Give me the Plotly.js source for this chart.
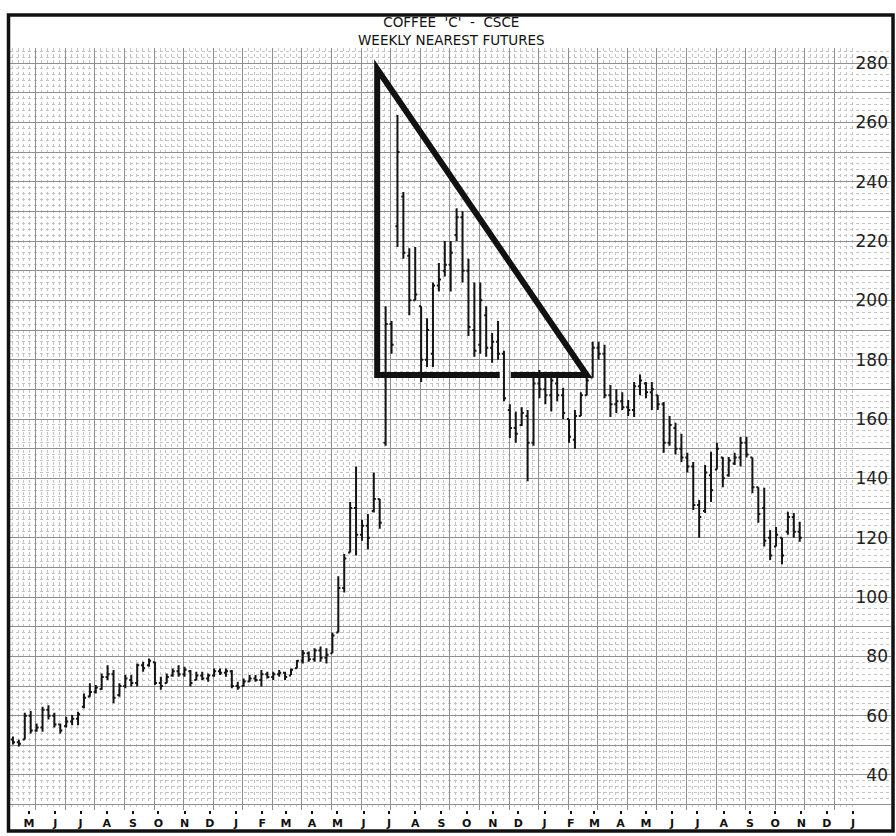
<!DOCTYPE html>
<html>
<head>
<meta charset="utf-8">
<script src="https://cdn.plot.ly/plotly-3.0.1.min.js"></script>
<style>
html, body { margin: 0; padding: 0; background: #fff; }
#chart { width: 896px; height: 836px; }
</style>
</head>
<body>
<div id="chart"></div>
<script>
// weekly nearest futures, one bar per week from Mon 12 Apr 1993
const firstWeek = Date.UTC(1993, 3, 12);
const DAY = 86400000;

const highs = [53,51.9,61,61.6,57.4,63,63.5,61,57.4,59.6,
  60.2,61.3,67.5,70.9,70.3,74.2,77,75.4,70.9,73.7,
  73.7,77.6,78.2,79.3,78.2,73.1,74.2,75.9,77,76.5,
  75.4,74.8,74.8,74.2,75.9,75.9,75.9,75.4,71.4,72.5,
  73.7,73.7,75.4,74.8,74.8,75.4,74.8,75.9,78.8,82.1,
  81.6,82.7,83.3,82.7,88,107,114.5,132,144,126,
  128,142,133,198,193,262.5,236.5,217.6,218,198,
  194,206,212.6,220,220,231,230,214,206,206,
  198,189,193,183,165,162.5,164,163,174,176.5,
  174,174,174,170.5,160,163,169,174,186,186,
  185,171.5,170,169,166.4,172.5,175,172.5,172.5,168,
  165.7,161,158.7,155,148.6,145.5,132.7,144.5,149,152,
  147.2,147.2,148.6,154,154,147,137,136.8,122.6,123.6,
  120,128.7,128.3,125.4];

const lows = [50.3,49.6,52,54,54.6,54.6,58.7,56,54,56,
  56.8,56.8,62.5,66.4,67.5,68.7,72,64.2,66.4,69.2,
  69.8,69.8,74.8,76.5,70.3,68.7,70.9,73.1,73.1,73.1,
  69.8,72,72,71.4,73.1,73.7,73.1,69.2,68.7,69.8,
  71.4,71.4,69.8,72.5,72,73.1,72,73.7,75.9,77.6,
  78.2,78.2,78.2,77.6,81,88,101.5,115,114,119,
  116,128.5,123,151,182,218,214,195,200,172.5,
  177.5,177.5,203,208,203,220,206,188,181,182,
  181,179,180,166,153.6,152,157.6,139,151,167,
  165,162.5,166,160,152,150,161,168,174,180,
  167,160.7,162,163,161,160.7,168,167,163,163,
  148.6,151,148,145.5,142,129.3,120,128.3,132,143,
  137,140.5,144.5,144,147,135,125,117,112.5,117,
  111,121,120,118.6];

const opens = [52,51,52,60,55,56,62,60,57,56.5,
  58,59,63,66.5,68,69,73,74,67,70,
  72,71,77,77,78,71,71,73.5,75,74,
  75,72,73.5,72.5,73.5,75,74.5,75,70,70,
  71.5,72.5,72,74,73,74,74.5,73.5,76,78.5,
  81,79,82,79.5,81,88,103,115,130,121,
  124,129,133,152,192,225,235,215,200,198,
  180,182,205,210,212,222,228,210,190,185,
  195,184,186,182,163,157,158,161,152,172,
  170,168,172,168,160,153,161,168,174,184,
  182,168,165,166,164,163,171,172,169,168,
  165,152,157,150,147,144,131,129,141,143,
  147,141,145,147,152,147,137,130,120,117,
  120,122,127,122];

const closes = [51,50.5,60,55,56,62,60,57,55,58,
  59,60.5,66,68,69.5,73,74,66,70,72.5,
  71,77,76,78.5,71,70,73,75,74,75.5,
  71,73.5,72.5,73.5,75,74.5,75,70,69.5,71.5,
  72.5,72,74,73,74,74.5,73,75.5,78.5,81,
  79,82,79.5,80.5,87,103,113,130,121,124,
  120,133,125,192,185,250,216,200,202,180,
  190,205,207,212,216,228,210,191,183,200,
  184,186,182,167,157,155,162,152,172,170,
  168,173,168,162,154,161,168,173,184,182,
  168,165,166,164,163,171,173,169,170,165,
  152,158,150,147,144,131,127,142,136,150,
  140,146,147,152,148,137,128,119,114,121,
  114,127,122,120];

const monthTicks = ['1993-05-01','1993-06-01','1993-07-01','1993-08-01','1993-09-01','1993-10-01',
  '1993-11-01','1993-12-01','1994-01-01','1994-02-01','1994-03-01','1994-04-01','1994-05-01',
  '1994-06-01','1994-07-01','1994-08-01','1994-09-01','1994-10-01','1994-11-01','1994-12-01',
  '1995-01-01','1995-02-01','1995-03-01','1995-04-01','1995-05-01','1995-06-01','1995-07-01',
  '1995-08-01','1995-09-01','1995-10-01','1995-11-01','1995-12-01','1996-01-01'];
const monthLabels = ['M','J','J','A','S','O','N','D','J','F','M','A','M','J','J','A','S','O','N','D',
  'J','F','M','A','M','J','J','A','S','O','N','D','J'];

const gridPrices = [30,40,50,60,70,80,90,100,110,120,130,140,150,160,170,180,190,200,210,220,230,240,250,260,270,280];
const priceLabels = ['','40','','60','','80','','100','','120','','140','','160','','180','','200','','220','','240','','260','','280'];

// hand-drawn triangle (open gap on the base)
const triDates = ['1994-11-09','1994-06-17','1994-06-17','1995-02-20','1994-11-22'];
const triPrices = [174.8,174.8,278,174.8,174.8];

const weeks = highs.map((h, i) => new Date(firstWeek + i * 7 * DAY).toISOString().slice(0, 10));

const triPath = triDates.map((d, i) => (i === 0 ? 'M' : 'L') + d + ',' + triPrices[i]).join(' ');

const bars = {
  type: 'ohlc',
  x: weeks, open: opens, high: highs, low: lows, close: closes,
  increasing: {line: {color: '#151515', width: 2}},
  decreasing: {line: {color: '#151515', width: 2}},
  tickwidth: 0.35,
  hoverinfo: 'skip',
  showlegend: false
};
const monthAxisHolder = {type: 'scatter', x: [], y: [], xaxis: 'x2', yaxis: 'y', showlegend: false, hoverinfo: 'skip'};

const xRange = ['1993-04-08 12:00', '1996-02-15'];

const layout = {
  width: 896, height: 836,
  margin: {l: 10, r: 5, t: 48, b: 26},
  paper_bgcolor: '#fff', plot_bgcolor: '#fff',
  showlegend: false,
  font: {family: 'DejaVu Sans', color: '#111'},
  xaxis: {
    type: 'date', range: xRange,
    tickmode: 'linear', tick0: '1993-05-09', dtick: 35 * DAY,
    showgrid: true, gridcolor: '#8f8f8f', gridwidth: 1,
    showticklabels: false, ticks: '',
    minor: {tickmode: 'linear', tick0: '1993-05-09', dtick: 7 * DAY, showgrid: true,
      gridcolor: '#c4c4c4', griddash: 'dot', gridwidth: 1, ticks: ''},
    rangeslider: {visible: false},
    zeroline: false, showline: false, fixedrange: true
  },
  xaxis2: {
    type: 'date', range: xRange, overlaying: 'x', anchor: 'y', side: 'bottom',
    tickmode: 'array', tickvals: monthTicks, ticktext: monthLabels,
    ticks: 'outside', ticklen: 3, tickwidth: 2, tickcolor: '#111',
    showgrid: false, zeroline: false, showline: false,
    tickfont: {family: 'DejaVu Sans', size: 11, weight: 'bold', color: '#111'},
    fixedrange: true
  },
  yaxis: {
    range: [28.2, 285.06], side: 'right',
    tickmode: 'array', tickvals: gridPrices, ticktext: priceLabels,
    ticklabelposition: 'inside', ticks: '',
    showgrid: true, gridcolor: '#8f8f8f', gridwidth: 1,
    minor: {tickmode: 'linear', tick0: 0, dtick: 2, showgrid: true, gridcolor: '#c4c4c4', griddash: 'dot', ticks: ''},
    tickfont: {family: 'DejaVu Sans', size: 17, color: '#222'},
    zeroline: false, showline: false, fixedrange: true
  },
  annotations: [
    {xref: 'paper', yref: 'paper', x: 0.5006, y: 1.0223, align: 'center',
      text: "COFFEE  'C'  -  CSCE<br>WEEKLY NEAREST FUTURES", showarrow: false,
      xanchor: 'center', yanchor: 'middle', font: {family: 'DejaVu Sans', size: 13.5, color: '#111'}}
  ],
  shapes: [
    {type: 'path', xref: 'x', yref: 'y', path: triPath, line: {color: '#111', width: 6}},
    {type: 'rect', xref: 'paper', yref: 'paper', x0: -0.0017, x1: 1.0023, y0: -0.0276, y1: 1.0433,
      line: {color: '#111', width: 3.5}}
  ]
};

Plotly.newPlot('chart', [bars, monthAxisHolder], layout, {displayModeBar: false, staticPlot: true});
</script>
</body>
</html>
